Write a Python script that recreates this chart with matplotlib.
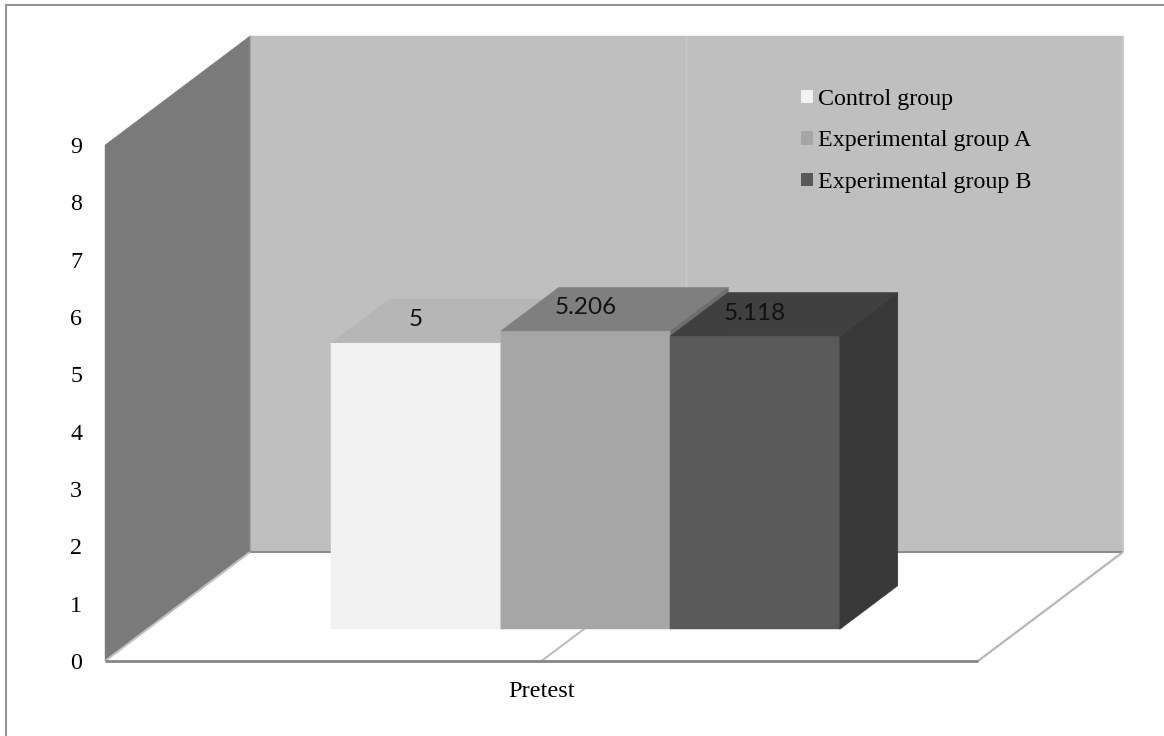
import matplotlib
matplotlib.use('Agg')
import matplotlib.pyplot as plt
from matplotlib.lines import Line2D
from matplotlib.patches import Patch, Polygon

groups = ['Control group', 'Experimental group A', 'Experimental group B']
values = [5, 5.206, 5.118]
value_labels = ['5', '5.206', '5.118']
category = 'Pretest'
y_ticks = [0, 1, 2, 3, 4, 5, 6, 7, 8, 9]

front_colors = ['#f2f2f2', '#a6a6a6', '#595959']
top_colors = ['#b6b6b6', '#7f7f7f', '#404040']
side_colors = ['#c0c0c0', '#6e6e6e', '#383838']

W, H = 1164, 736
# plot box in pixels: front edge of the floor and the height of the value axis
left, right, bottom, top = 105, 978, 661, 145

n_units = (right - left) / 169.5  # one unit is one bar wide
y_max = 9
# oblique shift from front to back of the floor, in data units
dx = 145 / 169.5
dy = 109 / ((bottom - top) / y_max)
bar_front, bar_back = 0.29, 0.69


def proj(x, y, d):
    return (x + d * dx, y + d * dy)


fig = plt.figure(figsize=(W / 100, H / 100), dpi=100, facecolor='white')
ax = fig.add_axes([left / W, (H - bottom) / H, (right - left) / W, (bottom - top) / H])
ax.set_xlim(0, n_units)
ax.set_ylim(0, y_max)
ax.patch.set_visible(False)
for s in ax.spines.values():
    s.set_visible(False)


def face(points, color, z=2):
    ax.add_patch(Polygon(points, closed=True, facecolor=color, edgecolor=color,
                         linewidth=0.3, clip_on=False, zorder=z))


def edge(p, q, color, lw, z=3):
    ax.plot([p[0], q[0]], [p[1], q[1]], color=color, lw=lw, clip_on=False,
            zorder=z, solid_capstyle='butt')


# walls and floor
face([proj(0, 0, 1), proj(n_units, 0, 1), proj(n_units, y_max, 1), proj(0, y_max, 1)], '#bfbfbf', 1)
face([proj(0, 0, 0), proj(0, 0, 1), proj(0, y_max, 1), proj(0, y_max, 0)], '#7a7a7a', 1)
mid = n_units / 2
edge(proj(mid, 0, 1), proj(mid, y_max, 1), '#cbcbcb', 1.0, 1.5)
edge(proj(n_units, 0, 1), proj(n_units, y_max, 1), '#c8c8c8', 1.5, 1.5)
edge(proj(0, y_max, 1), proj(0, 0, 1), '#a8a8a8', 1.0, 1.5)
edge(proj(0, 0, 1), proj(n_units, 0, 1), '#8c8c8c', 1.5, 1.5)
edge(proj(0, 0, 0), proj(0, 0, 1), '#bfbfbf', 1.5, 1.5)
edge(proj(mid, 0, 0), proj(mid, 0, 1), '#bfbfbf', 1.5, 1.5)
edge(proj(n_units, 0, 0), proj(n_units, 0, 1), '#b4b4b4', 1.5, 1.5)
edge(proj(0, 0, 0), proj(n_units, 0, 0), '#868686', 2.0, 1.6)

# bars
start = mid - len(values) / 2 + 0.012
for i, v in enumerate(values):
    x0, x1 = start + i, start + i + 1
    face([proj(x0, 0, bar_front), proj(x1, 0, bar_front), proj(x1, v, bar_front), proj(x0, v, bar_front)],
         front_colors[i], 2 + i)
    face([proj(x0, v, bar_front), proj(x1, v, bar_front), proj(x1, v, bar_back), proj(x0, v, bar_back)],
         top_colors[i], 2 + i)
    face([proj(x1, 0, bar_front), proj(x1, 0, bar_back), proj(x1, v, bar_back), proj(x1, v, bar_front)],
         side_colors[i], 2 + i)
    lx, _ = proj(x0 + 0.5, v, bar_front)
    _, ly = proj(x0, v, bar_front)
    ax.text(lx, ly + 0.4, value_labels[i], ha='center', va='center', family='Lato',
            fontsize=17.5, color='#111111', zorder=10)

# axes
ax.set_yticks(y_ticks)
ax.set_xticks([mid])
ax.set_xticklabels([category])
ax.tick_params(axis='y', length=0, pad=16.5, labelsize=17.3)
ax.tick_params(axis='x', length=0, pad=14.5, labelsize=17.6)
for lab in ax.get_yticklabels() + ax.get_xticklabels():
    lab.set_family('Liberation Serif')

handles = [Patch(facecolor=c, edgecolor='none') for c in front_colors]
ax.legend(handles, groups, loc='upper left', bbox_to_anchor=(801 / W, (H - 89) / H),
          bbox_transform=fig.transFigure, frameon=False, borderpad=0, borderaxespad=0,
          prop={'family': 'Liberation Serif', 'size': 17.3}, handlelength=0.5, handleheight=0.48,
          handletextpad=0.21, labelspacing=0.85)

# outer frame, only the top and left sides show
frame = dict(transform=fig.transFigure, color='#969696', linewidth=1.5)
fig.add_artist(Line2D([6 / W, 1], [(H - 5) / H, (H - 5) / H], **frame))
fig.add_artist(Line2D([6 / W, 6 / W], [0, (H - 5) / H], **frame))

fig.savefig('out.png', dpi=100)
